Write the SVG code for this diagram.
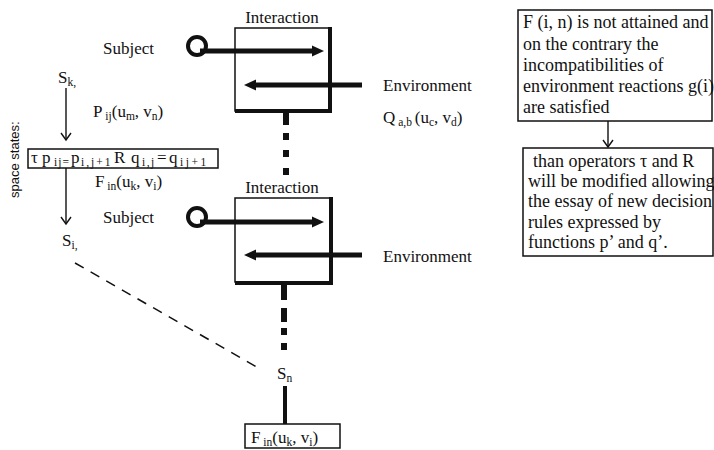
<svg xmlns="http://www.w3.org/2000/svg" width="714" height="450" viewBox="0 0 714 450" font-family="'Liberation Serif', 'DejaVu Serif', serif">
<defs>
<marker id="thickhead" markerUnits="userSpaceOnUse" markerWidth="14" markerHeight="14" refX="1" refY="7" orient="auto"><path d="M0,1.5 L12,7 L0,12.5 Z" fill="#111"/></marker>
<marker id="openhead" markerUnits="userSpaceOnUse" markerWidth="12" markerHeight="12" refX="10" refY="6" orient="auto"><path d="M3,1 L10,6 L3,11" fill="none" stroke="#111" stroke-width="1.4"/></marker>
</defs>
<style>
text{font-family:'Liberation Serif','DejaVu Serif',serif;fill:#111}
.lbl{font-size:17px}
.rt{font-size:18px}
.sub{font-size:11.5px}
.side{font-family:'Liberation Sans','DejaVu Sans',sans-serif;font-size:13px}
.box{fill:#fff;stroke:#111;stroke-width:1.5}
.ibox{fill:none;stroke:#111;stroke-width:1.5}
.edge{stroke:#111;stroke-width:4;fill:none}
.shaft{stroke:#111;stroke-width:5;fill:none;marker-end:url(#thickhead)}
.ring{fill:none;stroke:#111;stroke-width:4}
.thin{stroke:#111;stroke-width:1.4;fill:none;marker-end:url(#openhead)}
.dots{stroke:#111;stroke-width:6;fill:none}
</style>
<rect width="714" height="450" fill="#fff"/>

<g id="space-states">
<text class="side" transform="translate(19,198) rotate(-90)">space states:</text>
</g>

<g id="interaction1">
<text class="lbl" x="282" y="23" text-anchor="middle">Interaction</text>
<rect class="ibox" x="235" y="28" width="94" height="83"/>
<path class="edge" d="M330,27 V113 M235,111 H332"/>
</g>

<g id="subject1">
<text class="lbl" x="103" y="54">Subject</text>
<circle class="ring" cx="197" cy="46" r="9"/>
</g>

<g id="environment1">
<text class="lbl" x="383" y="91">Environment</text>
<text class="lbl" x="383" y="123">Q<tspan class="sub" dy="3"> a,b </tspan><tspan dy="-3">(u</tspan><tspan class="sub" dy="3">c</tspan><tspan dy="-3">, v</tspan><tspan class="sub" dy="3">d</tspan><tspan dy="-3">)</tspan></text>
</g>

<g id="interaction2">
<text class="lbl" x="282" y="193" text-anchor="middle">Interaction</text>
<rect class="ibox" x="235" y="198" width="95" height="84"/>
<path class="edge" d="M331,197 V285 M235,283 H333"/>
</g>

<g id="subject2">
<text class="lbl" x="103" y="223">Subject</text>
<circle class="ring" cx="197" cy="217" r="9"/>
</g>

<g id="environment2">
<text class="lbl" x="383" y="262">Environment</text>
</g>

<g id="state-sk">
<text class="lbl" x="58" y="83">S<tspan class="sub" dy="3">k,</tspan></text>
</g>

<g id="label-p">
<text class="lbl" x="93" y="117">P<tspan class="sub" dy="3"> ij</tspan><tspan dy="-3">(u</tspan><tspan class="sub" dy="3">m</tspan><tspan dy="-3">, v</tspan><tspan class="sub" dy="3">n</tspan><tspan dy="-3">)</tspan></text>
</g>

<g id="operator-box">
<rect class="box" x="28" y="149" width="190" height="19"/>
<text class="lbl" y="163"><tspan x="31">τ</tspan><tspan x="42">p</tspan><tspan class="sub" x="54" dy="3" letter-spacing="1">ij=</tspan><tspan x="71" dy="-3">p</tspan><tspan class="sub" x="81" dy="3" letter-spacing="2">i,j+1</tspan><tspan x="114" dy="-3">R</tspan><tspan x="131">q</tspan><tspan class="sub" x="142" dy="3" letter-spacing="1.5">i,j</tspan><tspan x="157" dy="-3">=</tspan><tspan x="169">q</tspan><tspan class="sub" x="180" dy="3" letter-spacing="2.5">ij+1</tspan></text>
</g>

<g id="label-f">
<text class="lbl" x="95" y="187">F<tspan class="sub" dy="3"> in</tspan><tspan dy="-3">(u</tspan><tspan class="sub" dy="3">k</tspan><tspan dy="-3">, v</tspan><tspan class="sub" dy="3">i</tspan><tspan dy="-3">)</tspan></text>
</g>

<g id="state-si">
<text class="lbl" x="62" y="246">S<tspan class="sub" dy="3">i,</tspan></text>
</g>

<g id="state-sn">
<text class="lbl" x="277" y="379">S<tspan class="sub" dy="3">n</tspan></text>
</g>

<g id="final-box">
<rect class="box" x="245" y="424" width="95" height="24"/>
<text class="lbl" x="251" y="443">F<tspan class="sub" dy="3"> in</tspan><tspan dy="-3">(u</tspan><tspan class="sub" dy="3">k</tspan><tspan dy="-3">, v</tspan><tspan class="sub" dy="3">i</tspan><tspan dy="-3">)</tspan></text>
</g>

<g id="condition-box">
<rect class="box" x="518" y="10" width="194" height="111"/>
<text class="rt"><tspan x="523" y="28">F (i, n) is not attained and</tspan><tspan x="523" y="50">on the contrary the</tspan><tspan x="523" y="71">incompatibilities of</tspan><tspan x="523" y="92">environment reactions g(i)</tspan><tspan x="523" y="113">are satisfied</tspan></text>
</g>

<g id="consequence-box">
<rect class="box" x="523" y="148" width="190" height="108"/>
<text class="rt"><tspan x="533" y="167">than operators τ and R</tspan><tspan x="528" y="187">will be modified allowing</tspan><tspan x="528" y="207">the essay of new decision</tspan><tspan x="528" y="228">rules expressed by</tspan><tspan x="528" y="248">functions p’ and q’.</tspan></text>
</g>

<g id="connectors">
<path class="shaft" d="M200,51 H313"/>
<path class="shaft" d="M362,85 H255"/>
<path class="shaft" d="M200,222 H313"/>
<path class="shaft" d="M362,255 H255"/>
<path class="dots" d="M286,111 V125 M286,133 V140 M286,150 V157 M286,168 V175"/>
<path class="dots" d="M284,284 V300 M284,308 V322 M284,328 V335 M284,343 V350"/>
<path class="edge" d="M285,386 V424"/>
<path d="M75,263 L262,370" stroke="#111" stroke-width="1.5" stroke-dasharray="10 8" fill="none"/>
<path class="thin" d="M66,88 V140"/>
<path class="thin" d="M66,168 V224"/>
<path class="thin" d="M608,121 V147"/>
</g>
</svg>
